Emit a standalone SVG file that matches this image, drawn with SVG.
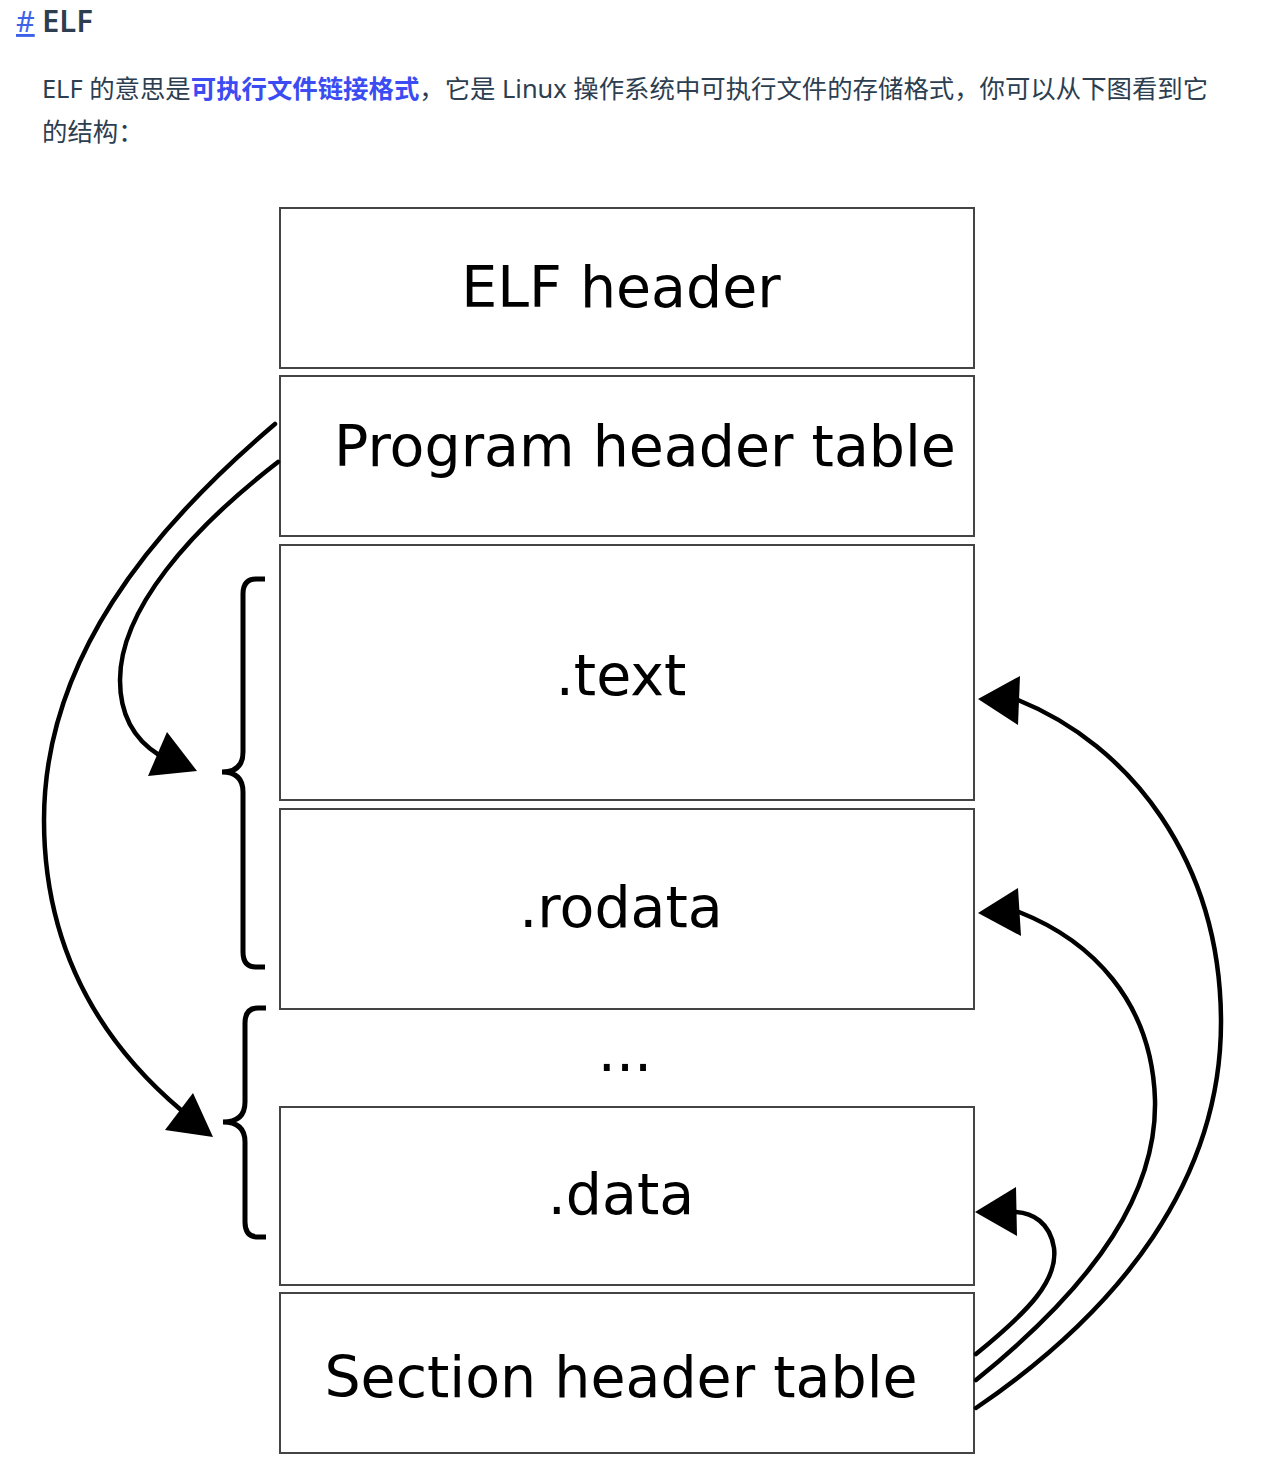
<svg xmlns="http://www.w3.org/2000/svg" width="1279" height="1465" viewBox="0 0 1279 1465">
<style>
.box{fill:#fff;stroke:#444;stroke-width:2}
.lbl{font-family:"DejaVu Sans",sans-serif;font-size:57px;fill:#000;text-anchor:middle}
.ln{fill:none;stroke:#000;stroke-width:4.5;stroke-linecap:round}
.br{fill:none;stroke:#000;stroke-width:5}
.ah{fill:#000}
.p{font-family:"Noto Sans","Noto Sans CJK SC",sans-serif;font-size:25.4px;fill:#2c3e50}
</style>
<rect width="1279" height="1465" fill="#fff"/>
<g id="title">
<text x="16" y="32" font-family="Noto Sans, sans-serif" font-size="29" fill="#3e63e8" text-decoration="underline">#</text>
<text x="42" y="32" font-family="Noto Sans, sans-serif" font-size="31" font-weight="600" fill="#2c3e50">ELF</text>
</g>
<g id="para">
<text class="p" x="42" y="98">ELF 的意思是<tspan font-weight="bold" fill="#3a4cf2">可执行文件链接格式</tspan>，它是 Linux 操作系统中可执行文件的存储格式，你可以从下图看到它</text>
<text class="p" x="42" y="141">的结构：</text>
</g>
<g id="elf-header"><rect class="box" x="280" y="208" width="694" height="160"/><text class="lbl" x="621" y="307">ELF header</text></g>
<g id="program-header-table"><rect class="box" x="280" y="376" width="694" height="160"/><text class="lbl" x="645" y="466">Program header table</text></g>
<g id="text"><rect class="box" x="280" y="545" width="694" height="255"/><text class="lbl" x="621" y="695">.text</text></g>
<g id="rodata"><rect class="box" x="280" y="809" width="694" height="200"/><text class="lbl" x="621" y="927">.rodata</text></g>
<g id="ellipsis"><text class="lbl" x="625" y="1071">...</text></g>
<g id="data"><rect class="box" x="280" y="1107" width="694" height="178"/><text class="lbl" x="621" y="1214">.data</text></g>
<g id="section-header-table"><rect class="box" x="280" y="1293" width="694" height="160"/><text class="lbl" x="621" y="1397">Section header table</text></g>
<g id="braces">
<path class="br" d="M265,579 H256 Q243,579 243,594 V752 Q243,772 222,772 Q243,772 243,792 V952 Q243,967 256,967 H265"/>
<path class="br" d="M266,1008 H258 Q245,1008 245,1023 V1102 Q245,1122 223,1122 Q245,1122 245,1142 V1222 Q245,1237 258,1237 H266"/>
</g>
<g id="connectors">
<path class="ln" d="M275,424 C150,530 44,660 44,820 C44,960 110,1050 181,1110"/>
<polygon class="ah" points="213,1137 193,1093 165,1130"/>
<path class="ln" d="M278,462 C190,530 120,610 120,680 C120,715 135,740 159,755"/>
<polygon class="ah" points="197,771 167,732 148,776"/>
<path class="ln" d="M976,1408 C1120,1310 1222,1180 1221,1020 C1220,860 1130,745 1018,700"/>
<polygon class="ah" points="978,699 1020,676 1018,725"/>
<path class="ln" d="M976,1380 C1100,1280 1157,1190 1155,1100 C1152,1000 1090,940 1019,912"/>
<polygon class="ah" points="978,913 1018,888 1021,936"/>
<path class="ln" d="M976,1354 C1030,1310 1058,1280 1054,1248 C1050,1222 1032,1213 1016,1212"/>
<polygon class="ah" points="975,1212 1016,1187 1017,1236"/>
</g>
</svg>
